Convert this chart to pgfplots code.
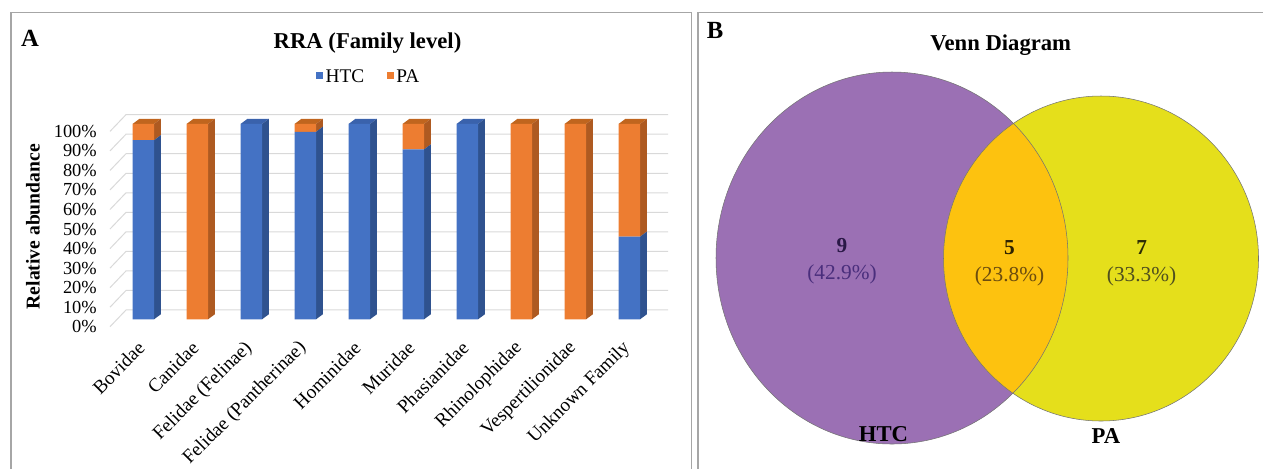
\documentclass[border=0pt]{standalone}
\usepackage{pgfplots}
\pgfplotsset{compat=1.18}
\usepackage{pgfplotstable}
\usepackage{fontspec}
\setmainfont{Liberation Serif}
\definecolor{htc}{HTML}{4472C4}
\definecolor{pa}{HTML}{ED7D31}
\definecolor{htcside}{HTML}{2F528F}
\definecolor{paside}{HTML}{AE5A21}
\definecolor{htctop}{HTML}{3A62AC}
\definecolor{patop}{HTML}{C0651E}
\definecolor{gridc}{HTML}{D9D9D9}
\definecolor{framec}{HTML}{A6A6A6}
\definecolor{vpurple}{HTML}{9B70B4}
\definecolor{vyellow}{HTML}{E5DF1B}
\definecolor{vorange}{HTML}{FDC20F}
\definecolor{tnine}{HTML}{2A1846}
\definecolor{pnine}{HTML}{4A2E7C}
\definecolor{tfive}{HTML}{2E2200}
\definecolor{pfive}{HTML}{6B4C0E}
\definecolor{tseven}{HTML}{2C2C05}
\definecolor{pseven}{HTML}{4F4F1E}

\pgfplotstableread{
x htc pa
0 91.7 8.3
1 0 100
2 100 0
3 96 4
4 100 0
5 87 13
6 100 0
7 0 100
8 0 100
9 42.3 57.7
}\rra

\newcommand\fsz[1]{\fontsize{#1}{#1}\selectfont}
\newcommand\side[4]{\fill[#4] ([xshift=8.06pt]axis cs:#1,#2) -- ([xshift=13.09pt,yshift=3.75pt]axis cs:#1,#2) -- ([xshift=13.09pt,yshift=3.75pt]axis cs:#1,#3) -- ([xshift=8.06pt]axis cs:#1,#3) -- cycle;}
\newcommand\topf[3]{\fill[#3] ([xshift=-8.06pt]axis cs:#1,#2) -- ([xshift=8.06pt]axis cs:#1,#2) -- ([xshift=13.09pt,yshift=3.75pt]axis cs:#1,#2) -- ([xshift=-3.03pt,yshift=3.75pt]axis cs:#1,#2) -- cycle;}
\pgfplotsset{rrabox/.style={
  at={(82.5pt,-239.475pt)}, anchor=south west,
  scale only axis, width=406.5pt, height=146.5pt,
  xmin=-0.617, xmax=9.42, ymin=0, ymax=100, clip=false}}

\begin{document}
\begin{tikzpicture}[x=0.75pt,y=-0.75pt]
\path[use as bounding box] (0,0) rectangle (1263,468);
\draw[framec,line width=1.1pt] (11,480) -- (11,12.3) -- (691.5,12.3) -- (691.5,480);
\draw[framec,line width=1.1pt] (698,480) -- (698,12.3) -- (1275,12.3);

\begin{axis}[rrabox, hide axis]
\pgfplotsinvokeforeach{0,10,...,100}{\draw[gridc,line width=0.75pt] ([yshift=-5.55pt]axis cs:-0.617,#1) -- ++(12pt,12.53pt) -- ++(406.5pt,0pt);}
\end{axis}

\begin{axis}[
  rrabox,
  ybar stacked, bar width=16.125pt,
  axis line style={draw=none},
  major tick length=0pt,
  xtick={0,...,9},
  xticklabels={Bovidae,Canidae,Felidae (Felinae),Felidae (Pantherinae),Hominidae,Muridae,Phasianidae,Rhinolophidae,Vespertilionidae,Unknown Family},
  xticklabel style={xshift=-1.5pt,yshift=-19.3pt,rotate=45,anchor=east,inner sep=0pt,font=\fsz{14.4}},
  ytick={0,10,...,100},
  yticklabels={0\%,10\%,20\%,30\%,40\%,50\%,60\%,70\%,80\%,90\%,100\%},
  yticklabel style={anchor=east,inner sep=0pt,xshift=-9.75pt,yshift=-5.55pt,font=\fsz{13.8}},
  legend style={at={(0.478,1.24)},anchor=center,draw=none,fill=none,legend columns=2,font=\fsz{14.5},
    /tikz/every even column/.append style={column sep=15pt}},
  legend image code/.code={\fill[#1] (0pt,-1.2pt) rectangle (5pt,3.8pt);},
]
\addplot[fill=htc,draw=none] table[x=x,y=htc]{\rra};
\addplot[fill=pa,draw=none] table[x=x,y=pa]{\rra};
\legend{HTC,PA}
\side{0}{0}{91.7}{htcside}\side{0}{91.7}{100}{paside}\topf{0}{100}{patop}
\side{1}{0}{100}{paside}\topf{1}{100}{patop}
\side{2}{0}{100}{htcside}\topf{2}{100}{htctop}
\side{3}{0}{96}{htcside}\side{3}{96}{100}{paside}\topf{3}{100}{patop}
\side{4}{0}{100}{htcside}\topf{4}{100}{htctop}
\side{5}{0}{87}{htcside}\side{5}{87}{100}{paside}\topf{5}{100}{patop}
\side{6}{0}{100}{htcside}\topf{6}{100}{htctop}
\side{7}{0}{100}{paside}\topf{7}{100}{patop}
\side{8}{0}{100}{paside}\topf{8}{100}{patop}
\side{9}{0}{42.3}{htcside}\side{9}{42.3}{100}{paside}\topf{9}{100}{patop}
\end{axis}

\node[font=\bfseries\fsz{18.5}] at (30,38) {A};
\node[font=\bfseries\fsz{17},anchor=base] at (367.5,48.5) {RRA (Family level)};
\node[font=\bfseries\fsz{14.7},rotate=90] at (33,226.7) {Relative abundance};

\begin{axis}[
  at={(523.5pt,0pt)}, anchor=north west,
  scale only axis, width=423.75pt, height=351pt,
  xmin=698, xmax=1263, ymin=0, ymax=468, y dir=reverse,
  hide axis, clip=false,
]
\fill[vpurple] (axis cs:892,258) ellipse [x radius=132pt, y radius=139.5pt];
\fill[vyellow] (axis cs:1101,258.5) ellipse [x radius=118.125pt, y radius=121.875pt];
\begin{scope}
\clip (axis cs:892,258) ellipse [x radius=132pt, y radius=139.5pt];
\fill[vorange] (axis cs:1101,258.5) ellipse [x radius=118.125pt, y radius=121.875pt];
\end{scope}
\draw[black!55,line width=0.4pt] (axis cs:892,258) ellipse [x radius=132pt, y radius=139.5pt];
\draw[black!55,line width=0.4pt] (axis cs:1101,258.5) ellipse [x radius=118.125pt, y radius=121.875pt];
\node[font=\bfseries\fsz{16},text=tnine] at (axis cs:842,246) {9};
\node[font=\fsz{16},text=pnine] at (axis cs:842,274) {(42.9\%)};
\node[font=\bfseries\fsz{16},text=tfive] at (axis cs:1009.5,248) {5};
\node[font=\fsz{16},text=pfive] at (axis cs:1009.5,276.5) {(23.8\%)};
\node[font=\bfseries\fsz{16},text=tseven] at (axis cs:1141.6,248) {7};
\node[font=\fsz{16},text=pseven] at (axis cs:1141.6,276.5) {(33.3\%)};
\node[font=\bfseries\fsz{17}] at (axis cs:883.5,434.5) {HTC};
\node[font=\bfseries\fsz{17}] at (axis cs:1106,436) {PA};
\node[font=\bfseries\fsz{17},anchor=base] at (axis cs:1000.7,50.3) {Venn Diagram};
\node[font=\bfseries\fsz{18.5}] at (axis cs:715,30) {B};
\end{axis}
\end{tikzpicture}
\end{document}
